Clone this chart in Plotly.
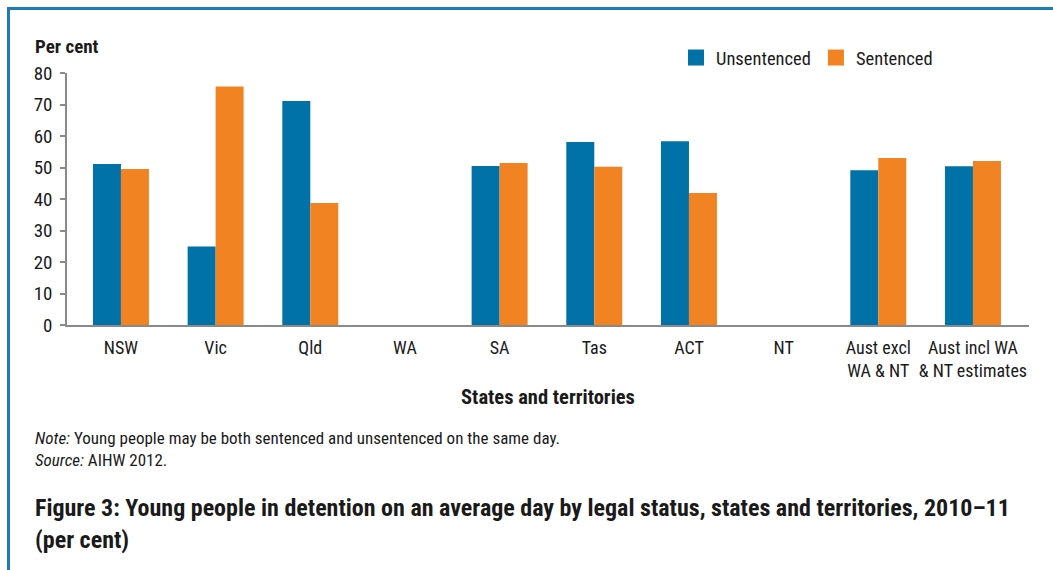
import plotly.graph_objects as go

categories = ["NSW", "Vic", "Qld", "WA", "SA", "Tas", "ACT", "NT",
              "Aust excl<br>WA & NT", "Aust incl WA<br>& NT estimates"]
unsentenced = [51.1, 24.9, 71.1, None, 50.5, 58.1, 58.3, None, 49.1, 50.4]
sentenced = [49.5, 75.7, 38.7, None, 51.4, 50.2, 41.9, None, 53.0, 52.1]
y_ticks = [0, 10, 20, 30, 40, 50, 60, 70, 80]

BLUE = "#0072A7"
ORANGE = "#F28322"
FRAME = "#1B7DB3"
FONT = "Roboto Condensed, Arial Narrow, sans-serif"

W, H = 1053, 570
L, R, T, B = 67, 24, 73, 245
PW, PH = W - L - R, H - T - B


def px(x):
    return (x - L) / PW


def py(y):
    return (H - B - y) / PH


fig = go.Figure()
fig.add_trace(go.Bar(x=categories, y=unsentenced, name="Unsentenced",
                     marker=dict(color=BLUE, line_width=0), showlegend=False))
fig.add_trace(go.Bar(x=categories, y=sentenced, name="Sentenced",
                     marker=dict(color=ORANGE, line_width=0), showlegend=False))
# legend entries with larger square swatches
fig.add_trace(go.Scatter(x=[None], y=[None], mode="markers", name="Unsentenced",
                         marker=dict(symbol="square", size=19, color=BLUE)))
fig.add_trace(go.Scatter(x=[None], y=[None], mode="markers", name="Sentenced",
                         marker=dict(symbol="square", size=19, color=ORANGE)))

fig.update_layout(
    width=W, height=H, autosize=False,
    margin=dict(l=L, r=R, t=T, b=B, pad=0),
    paper_bgcolor="white", plot_bgcolor="white",
    font=dict(family=FONT, size=18, color="#1a1a1a"),
    barmode="group", bargap=0.4085, bargroupgap=0,
    legend=dict(orientation="h", x=px(676), y=py(39), xanchor="left", yanchor="top",
                font=dict(size=18.5, color="#1a1a1a"), bgcolor="rgba(0,0,0,0)",
                itemwidth=30, tracegroupgap=0),
    xaxis=dict(
        range=[-0.570, 9.592],
        showline=True, linecolor="#8a8a8a", linewidth=2, ticks="", tickangle=0,
        automargin=False,
        tickfont=dict(size=18, color="#1a1a1a"), showgrid=False, ticklabelstandoff=5,
        title=dict(text="<b>States and territories</b>", font=dict(size=20.5, color="#1a1a1a"),
                   standoff=10),
    ),
    yaxis=dict(
        range=[0, 80], tickvals=y_ticks, showline=True, linecolor="#8a8a8a", linewidth=1.5,
        ticks="outside", ticklen=5, tickcolor="#8a8a8a", tickwidth=1.5, automargin=False,
        showgrid=False, zeroline=False, ticklabelstandoff=4,
        tickfont=dict(size=19, color="#1a1a1a"),
    ),
    shapes=[
        dict(type="line", xref="paper", yref="paper", x0=px(7), x1=px(1053),
             y0=py(8.5), y1=py(8.5), line=dict(color=FRAME, width=3)),
        dict(type="line", xref="paper", yref="paper", x0=px(8.5), x1=px(8.5),
             y0=py(8.5), y1=py(570), line=dict(color=FRAME, width=3)),
    ],
    annotations=[
        dict(text="<b>Per cent</b>", xref="paper", yref="paper", x=px(33), y=py(47),
             xanchor="left", yanchor="middle", showarrow=False,
             font=dict(size=19, color="#1a1a1a")),
        dict(text="<i>Note:</i> Young people may be both sentenced and unsentenced on the same day.",
             xref="paper", yref="paper", x=px(33), y=py(438), xanchor="left", yanchor="middle",
             showarrow=False, font=dict(size=17, color="#1a1a1a")),
        dict(text="<i>Source:</i> AIHW 2012.",
             xref="paper", yref="paper", x=px(33), y=py(460), xanchor="left", yanchor="middle",
             showarrow=False, font=dict(size=17, color="#1a1a1a")),
        dict(text="<b>Figure 3: Young people in detention on an average day by legal status, states and territories, 2010–11</b>",
             xref="paper", yref="paper", x=px(33), y=py(508), xanchor="left", yanchor="middle",
             showarrow=False, font=dict(size=24, color="#1a1a1a")),
        dict(text="<b>(per cent)</b>",
             xref="paper", yref="paper", x=px(33), y=py(540), xanchor="left", yanchor="middle",
             showarrow=False, font=dict(size=24, color="#1a1a1a")),
    ],
)

fig.write_html("out.html", config={"displayModeBar": False},
               post_script="document.body.style.margin='0px';")
